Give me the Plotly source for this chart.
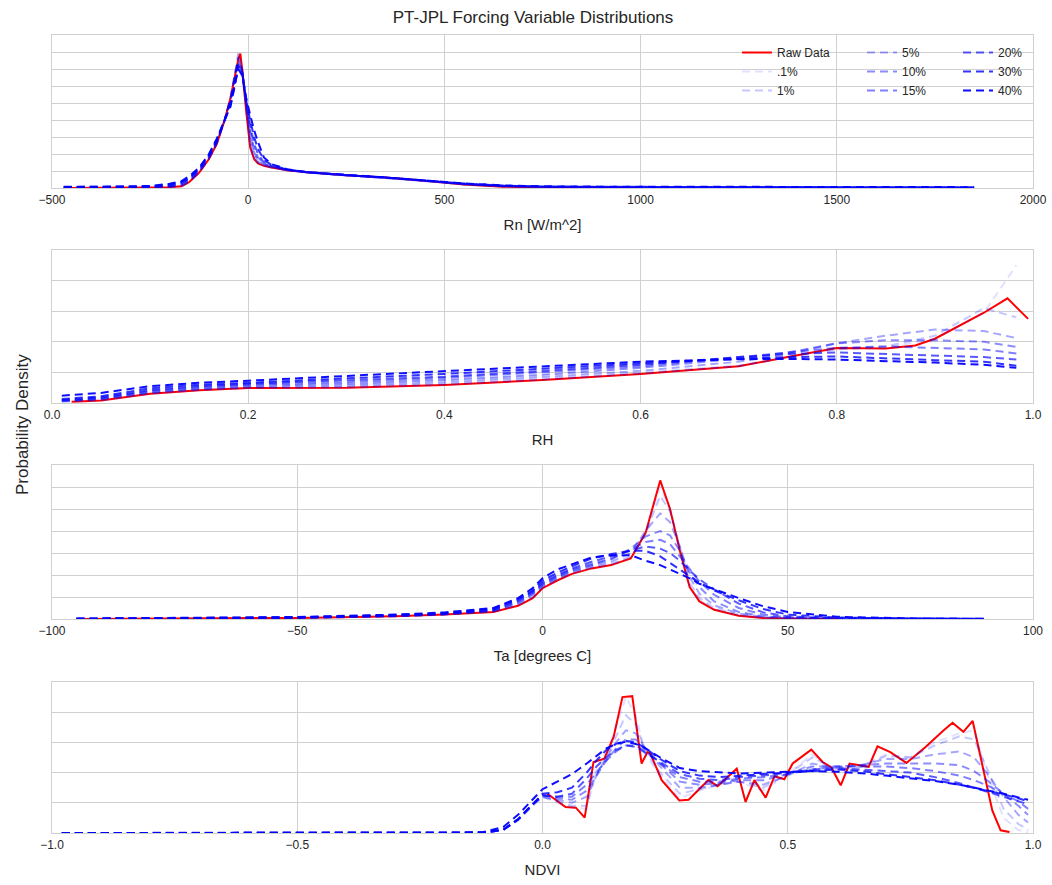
import plotly.graph_objects as go

# ---------------- labels / styles ----------------
series_labels = ["Raw Data", ".1%", "1%", "5%", "10%", "15%", "20%", "30%", "40%"]
noise_labels = [".1%", "1%", "5%", "10%", "15%", "20%", "30%", "40%"]
noise_alpha = [0.12, 0.22, 0.35, 0.45, 0.5, 0.65, 0.8, 0.95]

# ---------------- Rn [W/m^2]  (density values in units of 1e-3) ----------------
rn_scale = 1e-3
rn_raw_x = [-470, -250, -200, -170, -150, -125, -100, -80, -60, -45, -35, -25, -20, -15, -5, 5, 15, 25,
            40, 60, 100, 150, 250, 350, 450, 550, 650, 750, 900, 1000]
rn_raw_y = [0, 0.02, 0.05, 0.1, 0.35, 0.9, 1.7, 2.6, 4.0, 5.3, 6.5, 7.6, 7.9, 6.9, 4.5, 2.4, 1.7, 1.45,
            1.3, 1.2, 1.05, 0.92, 0.75, 0.62, 0.42, 0.2, 0.08, 0.03, 0.01, 0.005]
rn_noise_x = [-470, -350, -250, -200, -170, -150, -125, -100, -80, -60, -45, -35, -25, -15, -5, 5, 15, 25,
              40, 60, 100, 150, 250, 350, 450, 550, 650, 750, 900, 1100, 1400, 1850]
rn_noise = {
    ".1%": [0, 0, 0.02, 0.05, 0.1, 0.35, 0.9, 1.7, 2.6, 4.0, 5.3, 6.5, 8.0, 6.8, 4.4, 2.4, 1.7, 1.45,
            1.3, 1.2, 1.05, 0.92, 0.75, 0.62, 0.42, 0.2, 0.08, 0.03, 0.01, 0.005, 0.002, 0],
    "1%": [0.01, 0.01, 0.03, 0.06, 0.12, 0.37, 0.92, 1.72, 2.6, 4.0, 5.3, 6.6, 7.9, 6.9, 4.6, 2.5, 1.75, 1.5,
           1.32, 1.2, 1.05, 0.92, 0.75, 0.62, 0.42, 0.21, 0.09, 0.04, 0.02, 0.01, 0.005, 0.002],
    "5%": [0.02, 0.02, 0.04, 0.08, 0.15, 0.4, 0.95, 1.75, 2.65, 4.0, 5.3, 6.6, 7.7, 7.0, 4.9, 2.8, 1.9, 1.55,
           1.35, 1.22, 1.05, 0.92, 0.75, 0.62, 0.43, 0.22, 0.1, 0.05, 0.03, 0.02, 0.01, 0.01],
    "10%": [0.03, 0.03, 0.05, 0.1, 0.2, 0.45, 1.0, 1.8, 2.7, 4.0, 5.2, 6.4, 7.5, 6.9, 5.0, 3.1, 2.1, 1.65,
            1.4, 1.25, 1.05, 0.92, 0.75, 0.62, 0.43, 0.23, 0.11, 0.06, 0.04, 0.03, 0.02, 0.01],
    "15%": [0.04, 0.04, 0.06, 0.12, 0.25, 0.5, 1.05, 1.85, 2.75, 4.0, 5.1, 6.2, 7.4, 6.8, 5.1, 3.4, 2.3, 1.8,
            1.45, 1.27, 1.06, 0.92, 0.75, 0.62, 0.43, 0.24, 0.12, 0.07, 0.05, 0.04, 0.03, 0.02],
    "20%": [0.05, 0.05, 0.08, 0.15, 0.3, 0.55, 1.1, 1.9, 2.8, 4.0, 5.0, 6.0, 7.3, 6.8, 5.0, 3.7, 2.6, 2.0,
            1.5, 1.3, 1.07, 0.92, 0.75, 0.62, 0.44, 0.25, 0.13, 0.08, 0.06, 0.05, 0.04, 0.03],
    "30%": [0.06, 0.06, 0.1, 0.2, 0.35, 0.6, 1.15, 1.95, 2.85, 4.0, 4.9, 5.9, 7.2, 6.7, 5.1, 4.0, 3.0, 2.3,
            1.65, 1.35, 1.08, 0.93, 0.75, 0.62, 0.45, 0.26, 0.14, 0.09, 0.07, 0.06, 0.05, 0.04],
    "40%": [0.07, 0.07, 0.12, 0.25, 0.4, 0.7, 1.2, 2.0, 2.9, 4.0, 4.8, 6.0, 7.0, 6.6, 5.3, 4.3, 3.4, 2.7,
            1.8, 1.4, 1.1, 0.94, 0.76, 0.62, 0.45, 0.27, 0.15, 0.1, 0.08, 0.07, 0.06, 0.05],
}

# ---------------- RH  (density values in units of 0.5) ----------------
rh_scale = 0.5
rh_raw_x = [0.02, 0.05, 0.1, 0.15, 0.2, 0.3, 0.4, 0.5, 0.6, 0.7, 0.75, 0.8, 0.85, 0.88, 0.9, 0.95, 0.974, 0.995]
rh_raw_y = [0.04, 0.08, 0.3, 0.42, 0.49, 0.5, 0.59, 0.75, 0.95, 1.2, 1.5, 1.8, 1.78, 1.88, 2.1, 2.95, 3.42, 2.75]
rh_noise_x = [0.01, 0.05, 0.1, 0.15, 0.2, 0.3, 0.4, 0.5, 0.6, 0.7, 0.75, 0.8, 0.85, 0.9, 0.95, 0.983]
rh_noise = {
    ".1%": [0.04, 0.08, 0.3, 0.42, 0.49, 0.5, 0.6, 0.76, 0.96, 1.2, 1.5, 1.78, 1.8, 2.1, 2.95, 4.5],
    "1%": [0.05, 0.1, 0.32, 0.43, 0.5, 0.52, 0.62, 0.78, 0.98, 1.22, 1.5, 1.75, 1.85, 2.2, 3.1, 2.8],
    "5%": [0.06, 0.12, 0.34, 0.45, 0.52, 0.56, 0.68, 0.85, 1.05, 1.35, 1.6, 1.95, 2.2, 2.4, 2.35, 2.12],
    "10%": [0.07, 0.14, 0.36, 0.48, 0.56, 0.62, 0.75, 0.92, 1.15, 1.45, 1.65, 1.95, 2.05, 2.05, 2.0, 1.83],
    "15%": [0.08, 0.16, 0.4, 0.52, 0.6, 0.68, 0.82, 1.0, 1.2, 1.5, 1.65, 1.8, 1.85, 1.8, 1.75, 1.62],
    "20%": [0.1, 0.18, 0.42, 0.55, 0.63, 0.74, 0.86, 1.05, 1.25, 1.5, 1.6, 1.65, 1.6, 1.55, 1.5, 1.42],
    "30%": [0.13, 0.22, 0.48, 0.6, 0.66, 0.8, 0.95, 1.12, 1.3, 1.45, 1.5, 1.52, 1.45, 1.4, 1.35, 1.22],
    "40%": [0.24, 0.33, 0.55, 0.66, 0.73, 0.88, 1.05, 1.2, 1.35, 1.43, 1.44, 1.42, 1.38, 1.32, 1.25, 1.15],
}

# ---------------- Ta [degrees C]  (density values in units of 1e-2) ----------------
ta_scale = 1e-2
ta_raw_x = [-95, -70, -50, -30, -20, -10, -5, -2, 0, 3, 6, 10, 14, 18, 21, 24, 26, 28, 30, 32, 35, 40, 45, 50, 60]
ta_raw_y = [0, 0.01, 0.05, 0.12, 0.2, 0.32, 0.6, 0.95, 1.4, 1.75, 2.05, 2.3, 2.45, 2.75, 3.9, 6.3, 5.0, 3.1,
            1.45, 0.8, 0.42, 0.15, 0.05, 0.02, 0.005]
ta_noise_x = [-95, -70, -50, -30, -20, -10, -5, -2, 0, 3, 6, 10, 14, 18, 21, 24, 26, 28, 30, 32, 35, 40, 45, 50,
              60, 75, 90]
ta_noise = {
    ".1%": [0, 0.01, 0.05, 0.12, 0.2, 0.33, 0.62, 0.97, 1.42, 1.77, 2.07, 2.32, 2.48, 2.8, 3.9, 6.0, 5.0, 3.2,
            1.5, 0.85, 0.45, 0.17, 0.06, 0.02, 0.01, 0, 0],
    "1%": [0, 0.01, 0.05, 0.12, 0.2, 0.34, 0.65, 1.0, 1.45, 1.8, 2.1, 2.35, 2.5, 2.85, 3.9, 5.6, 4.9, 3.3,
           1.65, 0.95, 0.5, 0.2, 0.07, 0.03, 0.01, 0, 0],
    "5%": [0, 0.01, 0.05, 0.13, 0.21, 0.36, 0.7, 1.1, 1.5, 1.85, 2.15, 2.4, 2.6, 3.0, 4.0, 4.8, 4.4, 3.3,
           1.9, 1.15, 0.62, 0.25, 0.09, 0.04, 0.01, 0, 0],
    "10%": [0.01, 0.02, 0.06, 0.14, 0.22, 0.38, 0.75, 1.15, 1.55, 1.9, 2.2, 2.45, 2.7, 3.2, 3.75, 4.0, 3.8, 3.1,
            2.1, 1.45, 0.8, 0.32, 0.12, 0.05, 0.02, 0.01, 0],
    "15%": [0.01, 0.02, 0.06, 0.15, 0.23, 0.4, 0.8, 1.2, 1.6, 1.95, 2.25, 2.5, 2.75, 3.15, 3.5, 3.6, 3.4, 2.85,
            2.25, 1.7, 1.1, 0.5, 0.2, 0.08, 0.03, 0.01, 0],
    "20%": [0.01, 0.02, 0.07, 0.16, 0.25, 0.43, 0.85, 1.25, 1.65, 2.0, 2.3, 2.6, 2.85, 3.1, 3.3, 3.2, 3.0, 2.65,
            2.2, 1.8, 1.35, 0.7, 0.3, 0.12, 0.04, 0.01, 0.01],
    "30%": [0.01, 0.03, 0.08, 0.18, 0.27, 0.47, 0.9, 1.3, 1.75, 2.1, 2.4, 2.75, 2.95, 3.1, 3.1, 2.85, 2.55, 2.25,
            1.95, 1.65, 1.3, 0.85, 0.45, 0.2, 0.07, 0.02, 0.01],
    "40%": [0.02, 0.04, 0.09, 0.2, 0.3, 0.5, 0.95, 1.4, 1.85, 2.25, 2.5, 2.8, 2.9, 2.9, 2.65, 2.45, 2.25, 2.05,
            1.85, 1.6, 1.35, 0.95, 0.58, 0.32, 0.1, 0.03, 0.01],
}

# ---------------- NDVI  (density values in units of 0.5) ----------------
nd_scale = 0.5
nd_raw_x = [0.01, 0.047, 0.068, 0.086, 0.104, 0.126, 0.145, 0.163, 0.183, 0.202, 0.214, 0.22, 0.243, 0.279,
            0.298, 0.338, 0.357, 0.396, 0.414, 0.432, 0.455, 0.473, 0.493, 0.51, 0.548, 0.571, 0.589, 0.608,
            0.626, 0.665, 0.683, 0.709, 0.742, 0.781, 0.818, 0.836, 0.858, 0.877, 0.899, 0.917, 0.934, 0.952]
nd_raw_y = [1.3, 0.86, 0.84, 0.51, 2.35, 2.46, 3.18, 4.5, 4.53, 2.3, 2.68, 2.63, 1.75, 1.08, 1.1, 1.75, 1.55,
            2.13, 1.03, 1.75, 1.17, 1.88, 1.78, 2.3, 2.76, 2.35, 2.17, 1.58, 2.3, 2.19, 2.87, 2.68, 2.32, 2.85,
            3.4, 3.65, 3.35, 3.71, 2.08, 0.75, 0.09, 0.03]
nd_noise_x = [-0.98, -0.5, -0.2, -0.12, -0.08, -0.05, -0.02, 0.0, 0.03, 0.06, 0.09, 0.11, 0.13, 0.15, 0.17,
              0.19, 0.21, 0.24, 0.28, 0.32, 0.36, 0.4, 0.45, 0.5, 0.55, 0.6, 0.65, 0.7, 0.75, 0.8, 0.85, 0.88,
              0.91, 0.94, 0.97, 0.99]
nd_noise = {
    ".1%": [0, 0, 0, 0.01, 0.1, 0.4, 0.9, 1.2, 1.0, 0.85, 0.8, 2.2, 2.6, 3.5, 4.5, 3.9, 2.6, 1.9, 1.15, 1.4,
            1.6, 1.7, 1.4, 1.95, 2.6, 2.0, 2.2, 2.6, 2.5, 3.0, 3.3, 3.4, 1.8, 0.5, 0.1, 0.02],
    "1%": [0, 0, 0, 0.01, 0.1, 0.42, 0.9, 1.2, 1.05, 0.9, 0.9, 2.0, 2.5, 3.2, 3.9, 3.6, 2.7, 2.0, 1.3, 1.45,
           1.6, 1.7, 1.5, 1.95, 2.5, 2.1, 2.2, 2.55, 2.5, 2.9, 3.2, 3.1, 2.0, 0.8, 0.3, 0.1],
    "5%": [0, 0, 0, 0.01, 0.1, 0.45, 0.95, 1.2, 1.1, 1.0, 1.2, 1.9, 2.5, 3.0, 3.4, 3.3, 2.8, 2.2, 1.5, 1.5,
           1.6, 1.7, 1.6, 1.9, 2.3, 2.15, 2.25, 2.45, 2.45, 2.6, 2.7, 2.5, 1.9, 1.2, 0.6, 0.35],
    "10%": [0, 0, 0, 0.01, 0.1, 0.45, 0.95, 1.25, 1.15, 1.1, 1.4, 1.9, 2.4, 2.8, 3.1, 3.1, 2.8, 2.3, 1.7, 1.6,
            1.65, 1.75, 1.75, 1.95, 2.2, 2.2, 2.25, 2.3, 2.3, 2.3, 2.25, 2.05, 1.7, 1.3, 0.9, 0.6],
    "15%": [0, 0, 0, 0.01, 0.1, 0.45, 0.95, 1.25, 1.2, 1.2, 1.6, 2.0, 2.4, 2.7, 2.9, 2.9, 2.7, 2.3, 1.85, 1.7,
            1.7, 1.8, 1.85, 1.95, 2.1, 2.2, 2.2, 2.2, 2.15, 2.05, 1.9, 1.75, 1.55, 1.3, 1.05, 0.8],
    "20%": [0, 0, 0, 0.01, 0.1, 0.45, 0.95, 1.25, 1.2, 1.3, 1.8, 2.2, 2.5, 2.75, 2.9, 2.85, 2.65, 2.35, 1.95,
            1.8, 1.75, 1.85, 1.9, 2.0, 2.1, 2.15, 2.1, 2.05, 2.0, 1.85, 1.65, 1.5, 1.35, 1.2, 1.05, 0.95],
    "30%": [0, 0, 0, 0.02, 0.12, 0.45, 0.95, 1.3, 1.35, 1.5, 2.0, 2.4, 2.75, 2.95, 3.05, 3.0, 2.8, 2.45, 2.05,
            1.9, 1.85, 1.9, 1.95, 2.0, 2.05, 2.1, 2.05, 1.95, 1.85, 1.75, 1.6, 1.5, 1.4, 1.28, 1.15, 1.05],
    "40%": [0, 0, 0, 0.03, 0.2, 0.6, 1.1, 1.45, 1.7, 1.95, 2.3, 2.55, 2.8, 2.95, 3.02, 2.95, 2.8, 2.5, 2.15,
            2.05, 2.0, 1.97, 2.0, 2.02, 2.05, 2.03, 1.98, 1.9, 1.82, 1.72, 1.6, 1.5, 1.42, 1.3, 1.18, 1.1],
}

# ---------------- panels ----------------
panels = [
    dict(title="Rn [W/m^2]", raw_x=rn_raw_x, raw_y=rn_raw_y, nx=rn_noise_x, noise=rn_noise, scale=rn_scale,
         xrange=[-500, 2000], xdtick=500, xfmt="d", ymax=9),
    dict(title="RH", raw_x=rh_raw_x, raw_y=rh_raw_y, nx=rh_noise_x, noise=rh_noise, scale=rh_scale,
         xrange=[0, 1], xdtick=0.2, xfmt=".1f", ymax=5),
    dict(title="Ta [degrees C]", raw_x=ta_raw_x, raw_y=ta_raw_y, nx=ta_noise_x, noise=ta_noise, scale=ta_scale,
         xrange=[-100, 100], xdtick=50, xfmt="d", ymax=7),
    dict(title="NDVI", raw_x=nd_raw_x, raw_y=nd_raw_y, nx=nd_noise_x, noise=nd_noise, scale=nd_scale,
         xrange=[-1, 1], xdtick=0.5, xfmt=".1f", ymax=5),
]

W, H = 1052, 885
plot_top_px = [35, 250, 465, 682]
plot_bot_px = [188, 403, 619, 833]

FONT = "Liberation Sans, Arial, Helvetica, sans-serif"
GRID = "#d0d0d0"
TXT = "#262626"

fig = go.Figure()
legend_for = {"Raw Data": "legend", ".1%": "legend", "1%": "legend",
              "5%": "legend2", "10%": "legend2", "15%": "legend2",
              "20%": "legend3", "30%": "legend3", "40%": "legend3"}

for i, p in enumerate(panels):
    ax = "" if i == 0 else str(i + 1)
    s = p["scale"]
    fig.add_trace(go.Scatter(
        x=p["raw_x"], y=[v * s for v in p["raw_y"]], mode="lines", name="Raw Data",
        line=dict(color="rgb(255,0,0)", width=2), xaxis="x" + ax, yaxis="y" + ax,
        showlegend=(i == 0), legend=legend_for["Raw Data"], hoverinfo="skip"))
    for lab, a in zip(noise_labels, noise_alpha):
        fig.add_trace(go.Scatter(
            x=p["nx"], y=[v * s for v in p["noise"][lab]], mode="lines", name=lab,
            line=dict(color=f"rgba(0,0,255,{a})", width=2, dash="8px,5px"),
            xaxis="x" + ax, yaxis="y" + ax, showlegend=(i == 0), legend=legend_for[lab],
            hoverinfo="skip"))

layout = dict(
    width=W, height=H,
    margin=dict(l=52, r=19, t=0, b=0),
    paper_bgcolor="white", plot_bgcolor="white",
    font=dict(family=FONT, color=TXT, size=12),
    title=dict(text="PT-JPL Forcing Variable Distributions", x=533 / W, xref="container",
               xanchor="center", y=1 - 17 / H, yref="container", yanchor="middle",
               font=dict(size=17, color=TXT, family=FONT)),
    annotations=[dict(text="Probability Density", x=(22 - 52) / 981, xref="paper", y=1 - 425 / H,
                      yref="paper", showarrow=False, textangle=-90, xanchor="center", yanchor="middle",
                      font=dict(size=17, color=TXT, family=FONT))],
)

for i, p in enumerate(panels):
    ax = "" if i == 0 else str(i + 1)
    ydom = [1 - plot_bot_px[i] / H, 1 - plot_top_px[i] / H]
    layout["xaxis" + ax] = dict(
        domain=[0, 1], anchor="y" + ax, range=p["xrange"], dtick=p["xdtick"], tick0=p["xrange"][0],
        tickformat=p["xfmt"], showgrid=True, gridcolor=GRID, gridwidth=1, zeroline=False,
        showline=True, mirror=True, linecolor=GRID, linewidth=1.3, ticks="",
        tickfont=dict(size=12, color=TXT),
        title=dict(text=p["title"], font=dict(size=15, color=TXT), standoff=13))
    layout["yaxis" + ax] = dict(
        domain=ydom, anchor="x" + ax, range=[0, p["ymax"] * p["scale"]], dtick=p["scale"], tick0=0,
        showticklabels=False, showgrid=True, gridcolor=GRID, gridwidth=1, zeroline=False,
        showline=True, mirror=True, linecolor=GRID, linewidth=1.3, ticks="")

leg_common = dict(orientation="v", yanchor="top", y=1 - 38 / H, xanchor="left",
                  bgcolor="rgba(0,0,0,0)", borderwidth=0, font=dict(size=12, color=TXT),
                  tracegroupgap=0, itemwidth=30)
layout["legend"] = dict(leg_common, x=(737 - 52) / 981)
layout["legend2"] = dict(leg_common, x=(862 - 52) / 981)
layout["legend3"] = dict(leg_common, x=(958 - 52) / 981)

fig.update_layout(**layout)
fig.write_html("out.html")
